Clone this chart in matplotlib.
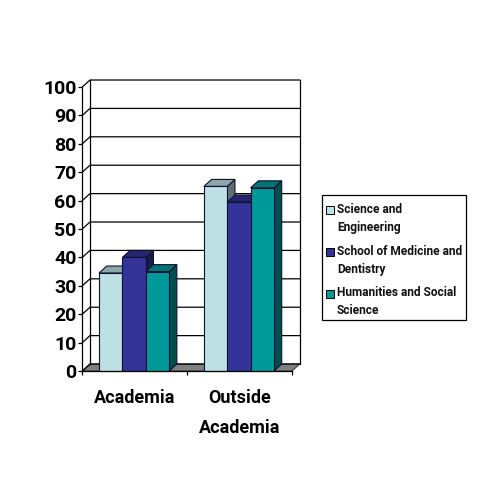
import matplotlib
matplotlib.use('Agg')
import matplotlib.pyplot as plt
from matplotlib.legend_handler import HandlerPatch
from matplotlib.patches import Polygon, Patch, Rectangle

categories = ['Academia', 'Outside\nAcademia']
series_names = ['Science and\nEngineering', 'School of Medicine and\nDentistry', 'Humanities and Social\nScience']
science = [34.5, 65]
medicine = [40, 59.5]
humanities = [35, 64.5]
y_ticks = list(range(0, 101, 10))

front_colors = ['#BCE0E3', '#333399', '#009999']
top_colors = ['#8DA8AA', '#26266F', '#007373']
side_colors = ['#5E7072', '#1A1A4D', '#004D4D']

BAR_W = 0.223
DX = 0.0733
DY = 2.46
EDGE = '#101030'

plt.rcParams['font.family'] = ['Roboto', 'Liberation Sans', 'DejaVu Sans']
plt.rcParams['font.weight'] = 'bold'

fig = plt.figure(figsize=(4.8, 4.8), dpi=100, facecolor='white')
ax = fig.add_axes([82.3 / 480, 109 / 480, 209.7 / 480, 284 / 480])
ax.set_xlim(0, 2)
ax.set_ylim(0, 100)
for s in ax.spines.values():
    s.set_visible(False)
ax.patch.set_visible(False)


def poly(points, color, z, lw=0.8, edge=EDGE):
    ax.add_patch(Polygon(points, closed=True, facecolor=color, edgecolor=edge,
                         linewidth=lw, zorder=z, clip_on=False))


# keeps the swatch beside the first line of a two line label
def first_line_swatch(legend, orig_handle, xdescent, ydescent, width, height, fontsize):
    return Rectangle((-xdescent, -ydescent + 6.5), width, height)


# floor
poly([(0, 0), (DX, DY), (2 + DX, DY), (2, 0)], '#808080', 1, edge='#404040')

# back wall grid and left wall diagonals
for v in y_ticks:
    ax.plot([0, DX, 2 + DX], [v, v + DY, v + DY], color='black', lw=0.9, zorder=2, clip_on=False)
ax.plot([0, 0], [0, 100], color='black', lw=0.9, zorder=2, clip_on=False)
ax.plot([DX, DX], [DY, 100 + DY], color='black', lw=0.9, zorder=2, clip_on=False)
ax.plot([2 + DX, 2 + DX], [DY, 100 + DY], color='black', lw=0.9, zorder=2, clip_on=False)
ax.plot([0, 2], [0, 0], color='black', lw=0.9, zorder=6, clip_on=False)

# bars
all_series = [science, medicine, humanities]
z = 3.0
for c in range(len(categories)):
    left = c + 0.494 - 1.5 * BAR_W
    for i, values in enumerate(all_series):
        x0 = left + i * BAR_W
        x1 = x0 + BAR_W
        v = values[c]
        poly([(x1, 0), (x1 + DX, DY), (x1 + DX, v + DY), (x1, v)], side_colors[i], z)
        poly([(x0, v), (x0 + DX, v + DY), (x1 + DX, v + DY), (x1, v)], top_colors[i], z)
        poly([(x0, 0), (x0, v), (x1, v), (x1, 0)], front_colors[i], z + 0.1)
        z += 0.2

ax.set_yticks(y_ticks)
ax.set_yticklabels([str(v) for v in y_ticks], fontsize=14, fontweight='bold')
ax.tick_params(axis='y', length=3, width=0.9, pad=1)
ax.set_xticks([0, 1, 2], minor=True)
ax.tick_params(axis='x', which='minor', length=3, width=0.9)
ax.set_xticks([0.5, 1.5])
ax.set_xticklabels(categories, fontsize=13, fontweight='bold', linespacing=1.85)
ax.tick_params(axis='x', which='major', length=0, pad=13)

# legend frame is separate: the box has more room above than beside the text
fig.add_artist(Rectangle((322 / 480, 160 / 480), 144 / 480, 125 / 480, transform=fig.transFigure,
                         facecolor='white', edgecolor='black', linewidth=0.9))
handles = [Patch(facecolor=col, edgecolor='black', linewidth=0.7) for col in front_colors]
leg = fig.legend(handles, series_names, loc='upper left',
                 bbox_to_anchor=(326 / 480, (480 - 203) / 480),
                 fontsize=8.6, frameon=False,
                 handlelength=0.7, handleheight=0.7, handletextpad=0.2,
                 labelspacing=0.9, borderpad=0, borderaxespad=0,
                 handler_map={Patch: HandlerPatch(patch_func=first_line_swatch)})
leg.set_zorder(5)
for t in leg.get_texts():
    t.set_fontweight('bold')
    t.set_linespacing(1.5)
    t.set_color('#111111')

fig.savefig('out.png', dpi=100)
